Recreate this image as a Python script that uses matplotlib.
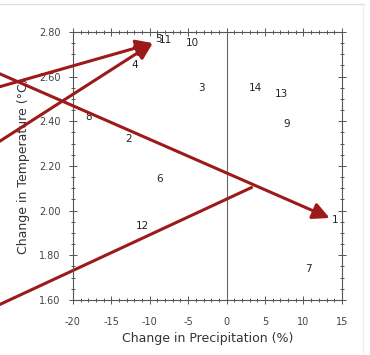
import matplotlib
matplotlib.use("Agg")
import matplotlib.pyplot as plt
from matplotlib.lines import Line2D
from matplotlib.ticker import MultipleLocator

plt.rcParams["axes.unicode_minus"] = False

# model numbers and their (precip, temp) changes
labels = ["1", "2", "3", "4", "5", "6", "7", "8", "9", "10", "11", "12", "13", "14"]
precip = [14.1, -12.7, -3.3, -11.9, -8.9, -8.7, 10.7, -17.9, 7.8, -4.4, -7.9, -10.9, 7.1, 3.8]
temp = [1.96, 2.32, 2.55, 2.65, 2.77, 2.14, 1.74, 2.42, 2.39, 2.75, 2.765, 1.93, 2.52, 2.55]

# annotation arrows drawn over the chart (start, end) in data units
arrow_starts = [(-30.0, 2.55), (-30.0, 2.30), (-30.0, 2.62)]
arrow_ends = [(-9.6, 2.75), (-9.6, 2.75), (13.4, 1.967)]
line_start = (-30.0, 1.572)
line_end = (3.4, 2.106)

red = "#9c1a1a"

fig = plt.figure(figsize=(3.7, 3.55), dpi=100)
ax = fig.add_axes([0.197, 0.155, 0.727, 0.755])

for lab, x, y in zip(labels, precip, temp):
    ax.text(x, y, lab, ha="center", va="center", fontsize=7.5, color="#222222")

ax.axvline(0, color="#666666", lw=0.8)

ax.set_xlim(-20, 15)
ax.set_ylim(1.6, 2.8)
ax.xaxis.set_major_locator(MultipleLocator(5))
ax.xaxis.set_minor_locator(MultipleLocator(1))
ax.yaxis.set_major_locator(MultipleLocator(0.2))
ax.yaxis.set_minor_locator(MultipleLocator(0.05))
ax.yaxis.set_major_formatter(plt.FormatStrFormatter("%.2f"))
ax.tick_params(which="both", top=True, right=True, direction="inout",
               colors="#555555", labelcolor="#444444", labelsize=7, width=0.7)
ax.tick_params(which="major", length=6)
ax.tick_params(which="minor", length=3)
ax.tick_params(axis="x", pad=9)
ax.tick_params(axis="y", pad=6)
for s in ax.spines.values():
    s.set_color("#555555")
    s.set_linewidth(0.8)

ax.set_xlabel("Change in Precipitation (%)", fontsize=9, color="#333333", labelpad=4)
ax.set_ylabel("Change in Temperature (°C)", fontsize=9, color="#333333", labelpad=6)

for (x0, y0), (x1, y1) in zip(arrow_starts, arrow_ends):
    ax.annotate("", xy=(x1, y1), xytext=(x0, y0), annotation_clip=False,
                arrowprops=dict(arrowstyle="-|>,head_length=1.0,head_width=0.5",
                                color=red, lw=2.2, shrinkA=0, shrinkB=0))
ax.plot([line_start[0], line_end[0]], [line_start[1], line_end[1]],
        color=red, lw=2.2, clip_on=False, solid_capstyle="butt")

# light frame of the screenshot
fig.add_artist(Line2D([0, 0.985], [0.99, 0.99], color="#dddddd", lw=1))
fig.add_artist(Line2D([0.982, 0.982], [0.0, 0.99], color="#eeeeee", lw=1))

fig.savefig("out.png", dpi=100)
